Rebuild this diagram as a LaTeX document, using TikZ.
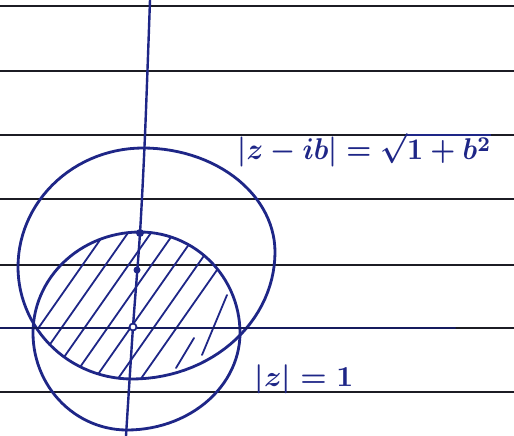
\documentclass[tikz,border=0pt]{standalone}
\begin{document}
\definecolor{ink}{RGB}{30,38,135}
\definecolor{rule}{RGB}{28,28,36}
\tikzset{
  paperline/.style={draw=rule, line width=2pt},
  inkline/.style={draw=ink, line width=2.8pt, line cap=round, line join=round},
  hatchline/.style={draw=ink, line width=1.8pt, line cap=round},
  fdot/.style={circle, fill=ink, inner sep=0pt, minimum size=8pt},
  odot/.style={circle, draw=ink, line width=1.8pt, fill=white, inner sep=0pt, minimum size=7pt},
  lbl/.style={text=ink, inner sep=0pt, font=\boldmath}
}
\begin{tikzpicture}[x=1pt, y=-1pt]
\useasboundingbox[fill=white] (0,0) rectangle (514,436);
% ruled paper
\foreach \yy in {6,71,135,199,265,328,392}
  \draw[paperline] (0,\yy) -- (514,\yy);
% hatching of the common region
\begin{scope}
  \clip plot[domain=0:90, samples=30] ({143+132*cos(\x)}, {252-104*sin(\x)})
     -- plot[domain=90:180, samples=30] ({143+125*cos(\x)}, {267-119*sin(\x)})
     -- plot[domain=180:270, samples=30] ({132+114*cos(\x)}, {267-112*sin(\x)})
     -- plot[domain=270:360, samples=30] ({132+143*cos(\x)}, {252-127*sin(\x)}) -- cycle;
  \clip plot[domain=0:90, samples=30] ({140+100*cos(\x)}, {333-101*sin(\x)})
     -- plot[domain=90:180, samples=30] ({140+107*cos(\x)}, {333-101*sin(\x)})
     -- plot[domain=180:270, samples=30] ({127+94*cos(\x)}, {333-97*sin(\x)})
     -- plot[domain=270:360, samples=30] ({127+113*cos(\x)}, {333-97*sin(\x)}) -- cycle;
  \foreach \xx in {37,60,83,106,129,152,175}
    \draw[hatchline] ({\xx-0.7*70},400) -- ({\xx+0.7*120},210);
  \draw[hatchline] (176,368) -- (194,338);
  \draw[hatchline] (202,355) -- (227,295);
\end{scope}
% circle |z-ib| = sqrt(1+b^2)
\draw[inkline] plot[domain=0:90, samples=30] ({143+132*cos(\x)}, {252-104*sin(\x)})
     -- plot[domain=90:180, samples=30] ({143+125*cos(\x)}, {267-119*sin(\x)})
     -- plot[domain=180:270, samples=30] ({132+114*cos(\x)}, {267-112*sin(\x)})
     -- plot[domain=270:360, samples=30] ({132+143*cos(\x)}, {252-127*sin(\x)}) -- cycle;
% circle |z| = 1
\draw[inkline] plot[domain=0:90, samples=30] ({140+100*cos(\x)}, {333-101*sin(\x)})
     -- plot[domain=90:180, samples=30] ({140+107*cos(\x)}, {333-101*sin(\x)})
     -- plot[domain=180:270, samples=30] ({127+94*cos(\x)}, {333-97*sin(\x)})
     -- plot[domain=270:360, samples=30] ({127+113*cos(\x)}, {333-97*sin(\x)}) -- cycle;
% axes
\coordinate (xl) at (0,328);
\coordinate (xr) at (455,328);
\draw[inkline, draw=ink!70!black, line width=2.2pt] (xl) -- (xr);
\draw[inkline, line width=2.4pt] plot[smooth] coordinates {(150,0) (145,135) (140,233) (133,327) (126,436)};
% points
\node[fdot] (pi) at (140,233) {};
\node[fdot, minimum size=7pt] (pc) at (137,270) {};
\node[odot] (po) at (133,327) {};
% labels
\node[lbl, anchor=south west, xscale=2.8, yscale=3.0] (lab1) at (237,168) {$|z-ib|=\sqrt{1+b^2}$};
\node[lbl, anchor=south west, xscale=2.95, yscale=2.9] (lab2) at (254,394) {$|z|=1$};
\end{tikzpicture}
\end{document}
